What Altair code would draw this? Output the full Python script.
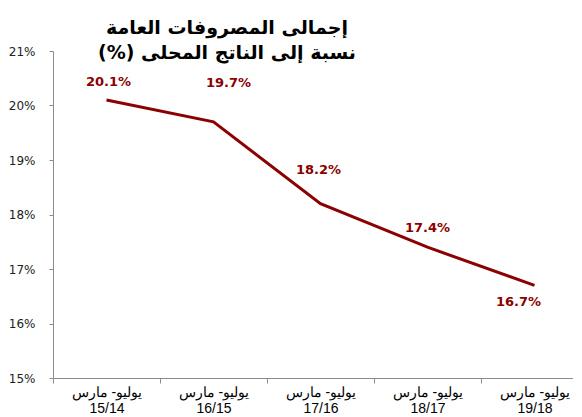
import altair as alt
import pandas as pd

periods = ["15/14", "16/15", "17/16", "18/17", "19/18"]
prefix = "يوليو- مارس"
values = [20.1, 19.7, 18.2, 17.4, 16.7]
title_lines = ["إجمالى المصروفات العامة", "(%) نسبة إلى الناتج المحلى"]
y_ticks = [15, 16, 17, 18, 19, 20, 21]

df = pd.DataFrame({
    "cat": [prefix + "\n" + p for p in periods],
    "val": values,
    "lab": [f"{v:.1f}%" for v in values],
})

RED = "#8B0000"
order = list(df["cat"])

x = alt.X("cat:N", sort=order,
          scale=alt.Scale(range=[0, 535], paddingInner=0, paddingOuter=0),
          axis=alt.Axis(title=None, labelAngle=0, tickBand="extent",
                        labelExpr="split(datum.label, '\\n')",
                        labelFont="Liberation Sans", labelFontSize=14,
                        labelColor="#000000", labelLineHeight=16,
                        labelBaseline="top", labelPadding=2,
                        domainColor="#8c8c8c", tickColor="#8c8c8c", tickSize=5))
y = alt.Y("val:Q",
          scale=alt.Scale(domain=[15, 21], nice=False, zero=False),
          axis=alt.Axis(title=None, values=y_ticks, grid=False,
                        labelExpr="datum.value + '%'",
                        labelFont="DejaVu Sans", labelFontSize=12,
                        labelColor="#222222", labelPadding=14,
                        domainColor="#8c8c8c", tickColor="#8c8c8c", tickSize=4))

base = alt.Chart(df)
line = base.mark_line(color=RED, strokeWidth=3).encode(x=x, y=y)

offsets = [(2, -18), (15, -39), (-2, -34), (0, -19), (-16, 17)]
layers = [line]
for cat, (dx, dy) in zip(order, offsets):
    layers.append(
        base.transform_filter(alt.datum.cat == cat)
        .mark_text(color=RED, font="DejaVu Sans", fontSize=13, fontWeight="bold",
                   dx=dx, dy=dy, baseline="middle", align="center")
        .encode(x=x, y=y, text="lab:N")
    )

chart = alt.layer(*layers).properties(
    width=520, height=327,
    autosize=alt.AutoSizeParams(type="none"),
    padding={"left": 45, "top": 43, "right": 0, "bottom": 39},
    title=alt.TitleParams(text=title_lines, anchor="middle", dx=-86, dy=22,
                          fontSize=19, fontWeight="bold", font="DejaVu Sans",
                          color="#000000", lineHeight=25),
).configure_view(stroke=None)

chart.save("out.html", embed_options={"renderer": "svg", "actions": False})
